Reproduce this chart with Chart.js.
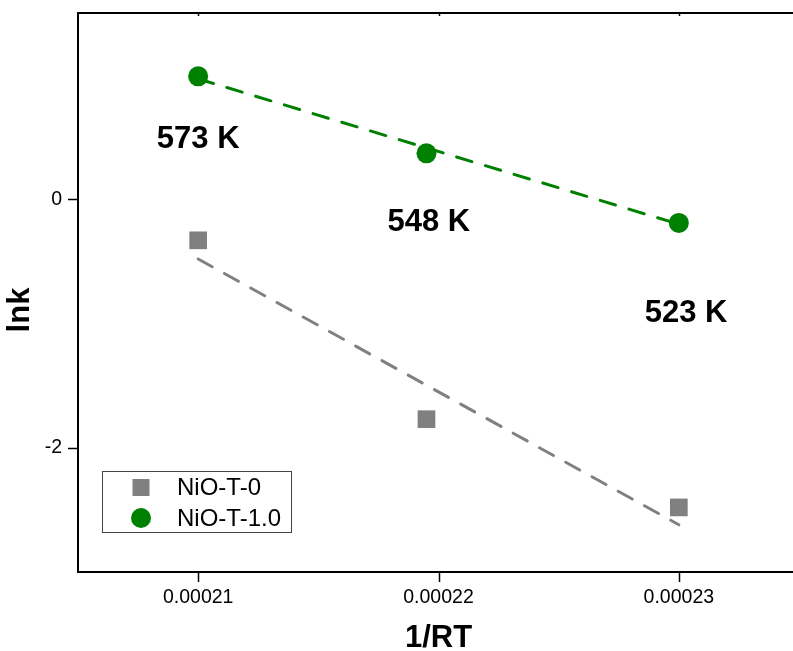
<!DOCTYPE html>
<html>
<head>
<meta charset="utf-8">
<script src="https://cdn.jsdelivr.net/npm/chart.js@4.4.1/dist/chart.umd.min.js"></script>
<style>
  html, body { margin: 0; padding: 0; background: #fff; overflow: hidden; }
  canvas { display: block; }
</style>
</head>
<body>
<canvas id="arrhenius" width="800" height="651"></canvas>
<script>
// 1/RT of the three reaction temperatures
const xValues = [0.00021, 0.0002195, 0.00023];
const lnkNiO_T_0 = [-0.33, -1.77, -2.48];
const lnkNiO_T_1 = [0.99, 0.37, -0.19];

// end points of the linear fits
const fitX = [0.00021, 0.00023];
const fitNiO_T_0 = [-0.48, -2.62];
const fitNiO_T_1 = [0.97, -0.20];

// temperature labels, placed in data units
const tempLabels = ['573 K', '548 K', '523 K'];
const tempLabelX = [0.00021, 0.0002196, 0.0002303];
const tempLabelY = [0.48, -0.19, -0.92];

// axis ticks
const xMajorTicks = [0.00021, 0.00022, 0.00023];
const xMinorTicks = [0.000205, 0.000215, 0.000225, 0.000235];
const yMajorTicks = [-2, 0];
const yMinorTicks = [-3, -1, 1];

const FONT = '"Liberation Sans", Arial, sans-serif';
const GRAY = '#808080';
const GREEN = '#008000';

const toPoints = (xs, ys) => xs.map((v, i) => ({ x: v, y: ys[i] }));
const isIn = (list, v) => list.some(m => Math.abs(m - v) < 1e-9);

// keep the plot box fixed: no extra room for tick labels
function fixPadding(s) {
  s.paddingLeft = 0;
  s.paddingRight = 0;
  s.paddingTop = 0;
  s.paddingBottom = 0;
}

// ticks, top frame, labels, y title and legend
const decorations = {
  id: 'decorations',
  afterDraw(chart) {
    const { ctx, chartArea: area, scales: { x, y } } = chart;
    ctx.save();
    ctx.strokeStyle = '#000';
    ctx.lineWidth = 2;
    ctx.beginPath();
    ctx.moveTo(area.left - 1, area.top);
    ctx.lineTo(area.right + 1, area.top);
    ctx.stroke();

    ctx.lineWidth = 1.5;
    ctx.beginPath();
    x.ticks.forEach(t => {
      const px = Math.round(x.getPixelForValue(t.value)) + 0.5;
      const len = isIn(xMajorTicks, t.value) ? 10 : 6;
      ctx.moveTo(px, area.bottom);
      ctx.lineTo(px, area.bottom + len);
      ctx.moveTo(px, area.top);
      ctx.lineTo(px, area.top + 3);
    });
    y.ticks.forEach(t => {
      const py = Math.round(y.getPixelForValue(t.value)) + 0.5;
      const len = isIn(yMajorTicks, t.value) ? 10 : 6;
      ctx.moveTo(area.left, py);
      ctx.lineTo(area.left - len, py);
    });
    ctx.stroke();

    ctx.fillStyle = '#000';
    ctx.font = 'bold 31px ' + FONT;
    ctx.textAlign = 'center';
    ctx.textBaseline = 'middle';
    tempLabels.forEach((txt, i) => {
      ctx.fillText(txt, x.getPixelForValue(tempLabelX[i]), y.getPixelForValue(tempLabelY[i]));
    });

    ctx.save();
    ctx.translate(20, 310);
    ctx.rotate(-Math.PI / 2);
    ctx.fillText('lnk', 0, 0);
    ctx.restore();

    // legend
    ctx.fillStyle = '#fff';
    ctx.fillRect(102, 471, 189, 61);
    ctx.strokeStyle = '#444';
    ctx.lineWidth = 1;
    ctx.strokeRect(102.5, 471.5, 189, 61);
    ctx.fillStyle = GRAY;
    ctx.fillRect(132.5, 479, 17, 17);
    ctx.fillStyle = GREEN;
    ctx.beginPath();
    ctx.arc(141, 518, 10, 0, Math.PI * 2);
    ctx.fill();
    ctx.fillStyle = '#000';
    ctx.font = '24px ' + FONT;
    ctx.textAlign = 'left';
    ctx.fillText('NiO-T-0', 177, 488);
    ctx.fillText('NiO-T-1.0', 177, 519);
    ctx.restore();
  }
};

const tickFont = { family: FONT, size: 19.5 };

new Chart(document.getElementById('arrhenius'), {
  type: 'scatter',
  data: {
    datasets: [
      {
        label: 'NiO-T-0',
        data: toPoints(xValues, lnkNiO_T_0),
        pointStyle: 'rect',
        pointRadius: 12.5,
        backgroundColor: GRAY,
        borderWidth: 0
      },
      {
        label: 'NiO-T-1.0',
        data: toPoints(xValues, lnkNiO_T_1),
        pointStyle: 'circle',
        pointRadius: 10,
        backgroundColor: GREEN,
        borderWidth: 0
      },
      {
        label: 'fit NiO-T-0',
        data: toPoints(fitX, fitNiO_T_0),
        showLine: true,
        pointRadius: 0,
        borderColor: GRAY,
        borderWidth: 3,
        borderDash: [16, 14],
        borderCapStyle: 'round'
      },
      {
        label: 'fit NiO-T-1.0',
        data: toPoints(fitX, fitNiO_T_1),
        showLine: true,
        pointRadius: 0,
        borderColor: GREEN,
        borderWidth: 3,
        borderDash: [16, 14],
        borderCapStyle: 'round'
      }
    ]
  },
  options: {
    responsive: false,
    animation: false,
    layout: { autoPadding: false, padding: { top: 13, right: 1, left: 0, bottom: 0 } },
    plugins: {
      legend: { display: false },
      tooltip: { enabled: false }
    },
    scales: {
      x: {
        type: 'linear',
        min: 0.000205,
        max: 0.000235,
        afterFit: s => { s.height = 79; fixPadding(s); },
        afterBuildTicks: s => {
          s.ticks = xMajorTicks.concat(xMinorTicks).sort((a, b) => a - b).map(v => ({ value: v }));
        },
        grid: { display: false, drawTicks: false },
        border: { display: true, color: '#000', width: 2 },
        ticks: {
          autoSkip: false,
          maxRotation: 0,
          padding: 14,
          color: '#000',
          font: tickFont,
          callback: v => isIn(xMajorTicks, v) ? v.toFixed(5) : null
        },
        title: {
          display: true,
          text: '1/RT',
          color: '#000',
          font: { family: FONT, size: 31, weight: 'bold', lineHeight: 0.8 },
          padding: { top: 0, bottom: 0 }
        }
      },
      y: {
        type: 'linear',
        min: -3,
        max: 1.5,
        afterFit: s => { s.width = 78; fixPadding(s); },
        afterBuildTicks: s => {
          s.ticks = yMajorTicks.concat(yMinorTicks).sort((a, b) => a - b).map(v => ({ value: v }));
        },
        grid: { display: false, drawTicks: false },
        border: { display: true, color: '#000', width: 2 },
        ticks: {
          autoSkip: false,
          padding: 16,
          color: '#000',
          font: tickFont,
          callback: v => isIn(yMajorTicks, v) ? String(v) : null
        }
      }
    }
  },
  plugins: [decorations]
});
</script>
</body>
</html>
